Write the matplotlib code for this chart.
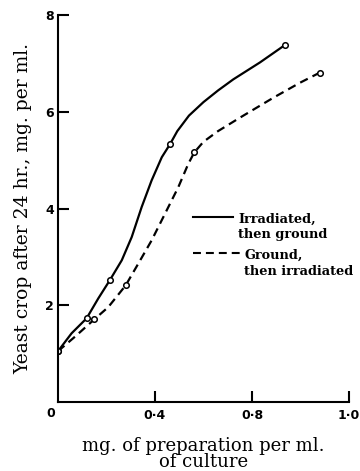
import numpy as np
import matplotlib
matplotlib.use("Agg")
import matplotlib.pyplot as plt

# measured points (open circles)
irr_x = [0.0, 0.118, 0.214, 0.462, 0.936]
irr_y = [1.05, 1.73, 2.52, 5.33, 7.38]
grd_x = [0.0, 0.15, 0.279, 0.562, 1.08]
grd_y = [1.05, 1.71, 2.41, 5.16, 6.81]

# smooth curves
irr_curve_x = [0.0, 0.056, 0.118, 0.166, 0.214, 0.263, 0.304, 0.345, 0.386, 0.428,
               0.462, 0.492, 0.54, 0.6, 0.66, 0.723, 0.833, 0.936]
irr_curve_y = [1.05, 1.42, 1.73, 2.14, 2.52, 2.93, 3.41, 4.03, 4.58, 5.06,
               5.33, 5.6, 5.92, 6.2, 6.44, 6.67, 7.02, 7.38]
grd_curve_x = [0.0, 0.07, 0.15, 0.207, 0.279, 0.331, 0.386, 0.441, 0.496, 0.537,
               0.562, 0.6, 0.66, 0.751, 0.888, 0.998, 1.08]
grd_curve_y = [1.05, 1.35, 1.71, 1.96, 2.41, 2.86, 3.34, 3.89, 4.44, 4.92,
               5.16, 5.38, 5.6, 5.88, 6.29, 6.60, 6.81]

xticks = [0.4, 0.8, 1.2]
xtick_labels = ["0\u00b74", "0\u00b78", "1\u00b70"]
yticks = [2, 4, 6, 8]

fig = plt.figure(figsize=(3.6, 4.71), dpi=100)
ax = fig.add_axes([58/360, 69/471, 291/360, 387/471])

dash = (3.8, 2.4)
ax.plot(irr_curve_x, irr_curve_y, color="black", lw=1.6,
        solid_joinstyle="round", solid_capstyle="round")
ax.plot(grd_curve_x, grd_curve_y, color="black", lw=1.6, dashes=dash,
        dash_joinstyle="round")
ax.plot(irr_x, irr_y, "o", ms=4, mfc="white", mec="black", mew=1.1)
ax.plot(grd_x, grd_y, "o", ms=4, mfc="white", mec="black", mew=1.1)

ax.set_xlim(0, 1.2)
ax.set_ylim(0, 8)
ax.spines["top"].set_visible(False)
ax.spines["right"].set_visible(False)
ax.spines["left"].set_linewidth(1.5)
ax.spines["bottom"].set_linewidth(1.5)
ax.set_xticks(xticks)
ax.set_xticklabels(xtick_labels)
ax.set_yticks(yticks)
ax.tick_params(direction="in", length=8, width=1.5, labelsize=9)
ax.tick_params(axis="x", pad=5)
ax.tick_params(axis="y", pad=3)
for lab in ax.get_xticklabels() + ax.get_yticklabels():
    lab.set_fontweight("bold")
ax.annotate("0", xy=(0, 0), xytext=(-5.5, -8.5), textcoords="offset points",
            ha="center", va="center", fontsize=9, fontweight="bold",
            annotation_clip=False)

serif = "DejaVu Serif"
ax.set_ylabel("Yeast crop after 24 hr., mg. per ml.", family=serif, fontsize=13.5, labelpad=9)
ax.set_xlabel("mg. of preparation per ml.\nof culture", family=serif, fontsize=13,
              linespacing=0.85, labelpad=11)

# legend drawn by hand
tr = ax.transAxes
ax.plot([0.465, 0.6], [0.478, 0.478], color="black", lw=1.5, transform=tr, clip_on=False)
ax.text(0.62, 0.49, "Irradiated,\nthen ground", transform=tr, family=serif,
        fontsize=9.3, fontweight="bold", va="top", ha="left", linespacing=1.3)
ax.plot([0.465, 0.638], [0.385, 0.385], color="black", lw=1.5, dashes=dash, transform=tr)
ax.text(0.642, 0.397, "Ground,", transform=tr, family=serif,
        fontsize=9.3, fontweight="bold", va="top", ha="left")
ax.text(0.638, 0.353, "then irradiated", transform=tr, family=serif,
        fontsize=9.3, fontweight="bold", va="top", ha="left")

fig.savefig("out.png", dpi=100)
